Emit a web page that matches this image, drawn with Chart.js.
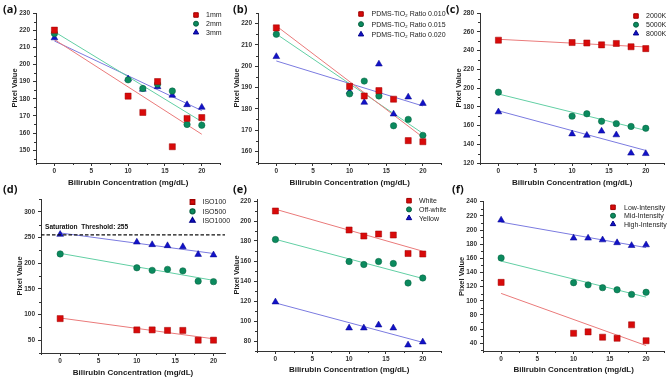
<!DOCTYPE html>
<html lang="en">
<head>
<meta charset="UTF-8">
<title>Pixel Value vs Bilirubin Concentration</title>
<script src="https://cdn.jsdelivr.net/npm/chart.js"></script>
<style>
    * { margin: 0; padding: 0; box-sizing: border-box; }
    body { width: 669px; height: 380px; background: #fff; position: relative; overflow: hidden; }
    .panel { position: absolute; }
    .tag { position: absolute; font: bold 11px 'Open Sans', 'Liberation Sans', sans-serif; line-height: 11px; color: #111; }
</style>
</head>
<body>
<script>
    // x values shared by every panel
    const conc = [0, 10, 12, 14, 16, 18, 20];
    const xTicks = [0, 5, 10, 15, 20];

    // (a) thickness
    const aLabels = ['1mm', '2mm', '3mm'];
    const a1mm = [220, 181.5, 172, 190, 152, 168.5, 169];
    const a2mm = [218, 191, 186, 188.5, 184.5, 165, 164.5];
    const a3mm = [215.5, 191.5, 185.5, 187, 182, 176.5, 175];
    const aYTicks = [150, 160, 170, 180, 190, 200, 210, 220, 230];

    // (b) PDMS-TiO2 ratio
    const bLabels = ['PDMS-TiO\u2082 Ratio 0.010', 'PDMS-TiO\u2082 Ratio 0.015', 'PDMS-TiO\u2082 Ratio 0.020'];
    const bR010 = [218, 190.5, 186, 188.5, 184.5, 165, 164.5];
    const bR015 = [215, 187, 193, 186, 172, 175, 167.5];
    const bR020 = [204.5, 188, 183, 201, 177.5, 185.5, 182.5];
    const bYTicks = [160, 170, 180, 190, 200, 210, 220];

    // (c) colour temperature
    const cLabels = ['2000K', '5000K', '8000K'];
    const c2000 = [251, 248.5, 248, 246, 247.5, 244, 242];
    const c5000 = [195.5, 170, 172.5, 164.5, 162, 159, 157];
    const c8000 = [174.5, 151, 149.5, 154, 150, 130.5, 130];
    const cYTicks = [120, 140, 160, 180, 200, 220, 240, 260, 280];

    // (d) ISO
    const dLabels = ['ISO100', 'ISO500', 'ISO1000'];
    const dIso100 = [92, 70, 70, 69, 69, 50, 50];
    const dIso500 = [218, 191, 186, 188, 185, 165, 164];
    const dIso1000 = [256, 241, 236, 234, 232, 217, 216];
    const dYTicks = [50, 100, 150, 200, 250, 300];
    const dThreshold = 255;

    // (e) background
    const eLabels = ['White', 'Off-white', 'Yellow'];
    const eWhite = [210, 191, 185, 187, 186, 167.5, 167];
    const eOffWhite = [181.5, 159.5, 156.5, 159.5, 157.5, 138, 143];
    const eYellow = [119, 93, 93, 96, 93, 76, 79];
    const eYTicks = [80, 100, 120, 140, 160, 180, 200, 220];

    // (f) light intensity
    const fLabels = ['Low-Intensity', 'Mid-Intensity', 'High-Intensity'];
    const fLow = [126, 54, 56, 48.5, 47, 66, 43.5];
    const fMid = [160.5, 125.5, 122.5, 118.5, 115.5, 109, 112];
    const fHigh = [214, 188.5, 188.5, 186, 182, 178, 179];
    const fYTicks = [40, 60, 80, 100, 120, 140, 160, 180, 200, 220, 240];

    const FONT = "'Liberation Sans', Arial, sans-serif";
    const AXIS = '#333';
    const styles = ['rect', 'circle', 'triangle'];
    const markRadius = [4.3, 3.2, 3.9];
    const legRadius = [3.2, 2.5, 3.1];
    const fills = ['#d80a0a', '#0b8a5e', '#1212c8'];
    const edges = ['#a00000', '#06603f', '#00008a'];
    const fitColors = ['#ea7a7a', '#62cfa4', '#7b7be0'];

    Chart.defaults.font.family = FONT;

    // least-squares line through a series, ends at the first and last x
    function fitLine(xs, ys) {
        const n = xs.length;
        const mx = xs.reduce((s, v) => s + v, 0) / n;
        const my = ys.reduce((s, v) => s + v, 0) / n;
        let sxy = 0, sxx = 0;
        for (let i = 0; i < n; i++) {
            sxy += (xs[i] - mx) * (ys[i] - my);
            sxx += (xs[i] - mx) * (xs[i] - mx);
        }
        const b = sxy / sxx, a = my - b * mx;
        return [{ x: xs[0], y: a + b * xs[0] }, { x: xs[n - 1], y: a + b * xs[n - 1] }];
    }

    // minor ticks, inside legend, threshold line
    const extras = {
        id: 'extras',
        afterDraw(chart, args, o) {
            const ctx = chart.ctx;
            const xs = chart.scales.x, ys = chart.scales.y;
            const area = chart.chartArea;
            ctx.save();
            ctx.strokeStyle = AXIS;
            ctx.lineWidth = 1;
            ctx.beginPath();
            const xm = xs.ticks.map(t => t.value), xStep = xm[1] - xm[0];
            for (let v = xm[0] - xStep / 2; v <= xs.max; v += xStep) {
                if (v < xs.min) continue;
                const p = Math.round(xs.getPixelForValue(v)) + 0.5;
                ctx.moveTo(p, area.bottom);
                ctx.lineTo(p, area.bottom + 2);
            }
            const ym = ys.ticks.map(t => t.value), yStep = ym[1] - ym[0];
            for (let v = ym[0] - yStep / 2; v <= ys.max; v += yStep) {
                if (v < ys.min) continue;
                const p = Math.round(ys.getPixelForValue(v)) + 0.5;
                ctx.moveTo(area.left - 2, p);
                ctx.lineTo(area.left, p);
            }
            ctx.stroke();

            if (o.threshold != null) {
                const p = ys.getPixelForValue(o.threshold);
                ctx.strokeStyle = '#111';
                ctx.lineWidth = 1.3;
                ctx.setLineDash([3.5, 2]);
                ctx.beginPath();
                ctx.moveTo(area.left, p);
                ctx.lineTo(area.right, p);
                ctx.stroke();
                ctx.setLineDash([]);
                ctx.fillStyle = '#111';
                ctx.font = 'bold 6.6px ' + FONT;
                ctx.textBaseline = 'middle';
                ctx.textAlign = 'left';
                ctx.fillText(o.thresholdText, area.left + 4, p - 7.5);
            }

            const lg = o.legend;
            if (lg) {
                ctx.font = '7px ' + FONT;
                ctx.textBaseline = 'middle';
                ctx.textAlign = 'left';
                lg.labels.forEach((label, i) => {
                    const y = lg.y + i * lg.gap;
                    ctx.fillStyle = fills[i];
                    ctx.strokeStyle = edges[i];
                    Chart.helpers.drawPoint(ctx, { pointStyle: styles[i], radius: legRadius[i], borderWidth: 0.5, rotation: 0 }, lg.x, y);
                    ctx.fillStyle = '#222';
                    ctx.fillText(label, lg.x + lg.dx, y + 0.5);
                });
            }
            ctx.restore();
        }
    };

    // box: canvas [left, top, width, height]; area: plot [left, right, top, bottom]; all page pixels
    const panels = [
        { tag: '(a)', tagPos: [3, 3], box: [0, 0, 225, 192], area: [36, 223, 13, 163], xMax: 22.5,
          yMin: 142.5, yMax: 230, yTicks: aYTicks, yTitleX: 15, xTitleY: 183,
          labels: aLabels, series: [a1mm, a2mm, a3mm], legend: { x: 196, y: 15, gap: 8.7, dx: 10 } },
        { tag: '(b)', tagPos: [233, 3], box: [222, 0, 224, 192], area: [258, 445, 13, 163], xMax: 22.5,
          yMin: 154.5, yMax: 225, yTicks: bYTicks, yTitleX: 237, xTitleY: 183,
          labels: bLabels, series: [bR010, bR015, bR020], legend: { x: 361, y: 14, gap: 10.2, dx: 10.5 } },
        { tag: '(c)', tagPos: [446, 3], box: [444, 0, 225, 192], area: [480, 667, 13, 163], xMax: 22.5,
          yMin: 120, yMax: 280, yTicks: cYTicks, yTitleX: 459, xTitleY: 183,
          labels: cLabels, series: [c2000, c5000, c8000], legend: { x: 636, y: 16, gap: 8.7, dx: 10 } },
        { tag: '(d)', tagPos: [3, 183], box: [0, 185, 235, 195], area: [41, 225, 199, 353], xMax: 21.5,
          yMin: 25, yMax: 325, yTicks: dYTicks, yTitleX: 20, xTitleY: 373,
          labels: dLabels, series: [dIso100, dIso500, dIso1000], legend: { x: 192.5, y: 202, gap: 9.3, dx: 10 },
          threshold: dThreshold, thresholdText: 'Saturation  Threshold: ' + dThreshold },
        { tag: '(e)', tagPos: [233, 183], box: [222, 185, 224, 195], area: [257, 445, 199, 351], xMax: 22.5,
          yMin: 70, yMax: 222, yTicks: eYTicks, yTitleX: 237, xTitleY: 370,
          labels: eLabels, series: [eWhite, eOffWhite, eYellow], legend: { x: 409, y: 200.7, gap: 8.7, dx: 10 } },
        { tag: '(f)', tagPos: [452, 183], box: [444, 185, 225, 195], area: [483, 667, 201.7, 351], xMax: 22.5,
          yMin: 29, yMax: 240, yTicks: fYTicks, yTitleX: 462, xTitleY: 369.5,
          labels: fLabels, series: [fLow, fMid, fHigh], legend: { x: 613, y: 207.3, gap: 8.4, dx: 11 } }
    ];

    panels.forEach((p, k) => {
        const [bx, by, bw, bh] = p.box;
        const [al, ar, at, ab] = p.area;

        const holder = document.createElement('div');
        holder.className = 'panel';
        holder.style.cssText = `left:${bx}px;top:${by}px;width:${bw}px;height:${bh}px;`;
        const canvas = document.createElement('canvas');
        holder.appendChild(canvas);
        document.body.appendChild(holder);

        const tag = document.createElement('div');
        tag.className = 'tag';
        tag.textContent = p.tag;
        tag.style.left = p.tagPos[0] + 'px';
        tag.style.top = p.tagPos[1] + 'px';
        document.body.appendChild(tag);

        const yTitleSize = 7.5, xTitleSize = 8;
        const yAxisW = al - bx;
        const xAxisH = by + bh - ab;

        const datasets = [];
        p.series.forEach((ys, i) => {
            datasets.push({
                label: p.labels[i],
                data: conc.map((x, j) => ({ x: x, y: ys[j] })),
                pointStyle: styles[i],
                pointRadius: markRadius[i],
                backgroundColor: fills[i],
                borderColor: edges[i],
                pointBorderWidth: 0.5,
                showLine: false,
                order: 1
            });
        });
        p.series.forEach((ys, i) => {
            datasets.push({
                label: p.labels[i] + ' fit',
                data: fitLine(conc, ys),
                showLine: true,
                borderColor: fitColors[i],
                borderWidth: 1,
                pointRadius: 0,
                order: 5
            });
        });

        new Chart(canvas, {
            type: 'scatter',
            data: { datasets: datasets },
            options: {
                responsive: true,
                maintainAspectRatio: false,
                animation: false,
                events: [],
                layout: { padding: { left: 0, top: at - by, right: bx + bw - ar, bottom: 0 } },
                plugins: {
                    legend: { display: false },
                    tooltip: { enabled: false },
                    extras: {
                        legend: { x: p.legend.x - bx, y: p.legend.y - by, gap: p.legend.gap, dx: p.legend.dx, labels: p.labels },
                        threshold: p.threshold,
                        thresholdText: p.thresholdText
                    }
                },
                scales: {
                    x: {
                        type: 'linear',
                        min: -2.5,
                        max: p.xMax,
                        afterBuildTicks: s => { s.ticks = xTicks.map(v => ({ value: v })); },
                        afterFit: s => { s.height = xAxisH; },
                        grid: { drawOnChartArea: false, drawTicks: true, tickLength: 3, tickColor: AXIS, color: AXIS },
                        border: { display: true, color: AXIS, width: 1 },
                        ticks: { font: { size: 6.5, weight: 'bold' }, color: '#333', padding: 1, maxRotation: 0, autoSkip: false },
                        title: {
                            display: true, text: 'Bilirubin Concentration (mg/dL)', color: '#1a1a1a',
                            font: { size: xTitleSize, weight: 'bold' },
                            padding: { top: 0, bottom: by + bh - p.xTitleY - xTitleSize * 0.6 }
                        }
                    },
                    y: {
                        type: 'linear',
                        min: p.yMin,
                        max: p.yMax,
                        afterBuildTicks: s => { s.ticks = p.yTicks.map(v => ({ value: v })); },
                        afterFit: s => { s.width = yAxisW; },
                        grid: { drawOnChartArea: false, drawTicks: true, tickLength: 3, tickColor: AXIS, color: AXIS },
                        border: { display: true, color: AXIS, width: 1 },
                        ticks: { font: { size: 6.5, weight: 'bold' }, color: '#333', padding: 3, autoSkip: false },
                        title: {
                            display: true, text: 'Pixel Value', color: '#1a1a1a',
                            font: { size: yTitleSize, weight: 'bold' },
                            padding: { top: p.yTitleX - bx - yTitleSize * 0.6, bottom: 0 }
                        }
                    }
                }
            },
            plugins: [extras]
        });
    });
</script>
</body>
</html>
